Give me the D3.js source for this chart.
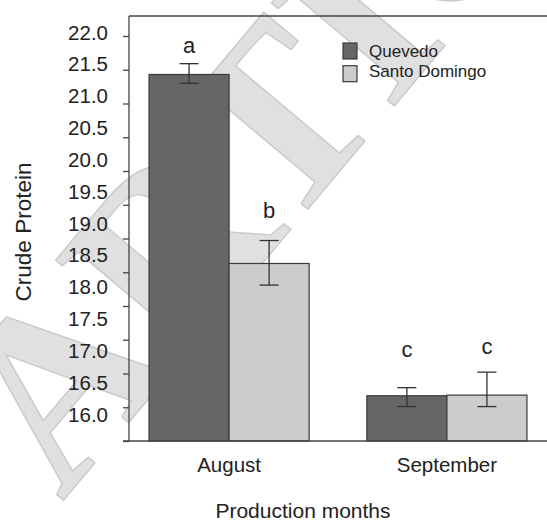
<!DOCTYPE html>
<html>
<head>
<meta charset="utf-8">
<script src="https://cdn.jsdelivr.net/npm/d3@7/dist/d3.min.js"></script>
<style>
  html, body { margin: 0; padding: 0; background: #fff; }
  svg { display: block; }
  text { font-family: "Liberation Sans", Arial, Helvetica, sans-serif; fill: #222; }
</style>
</head>
<body>
<svg id="chart" width="547" height="521"></svg>
<script>
// ---- data ----
const months = ["August", "September"];
const series = ["Quevedo", "Santo Domingo"];
const quevedo = [21.43, 16.67];
const santoDomingo = [18.63, 16.68];
const quevedoErrUp = [0.16, 0.12];
const quevedoErrDown = [0.13, 0.16];
const santoErrUp = [0.34, 0.34];
const santoErrDown = [0.32, 0.17];
const quevedoLetters = ["a", "c"];
const santoLetters = ["b", "c"];
const quevedoLetterAt = [21.75, 17.24];
const santoLetterAt = [19.30, 17.29];
const tickValues = [16.0, 16.5, 17.0, 17.5, 18.0, 18.5, 19.0, 19.5, 20.0, 20.5, 21.0, 21.5, 22.0];
const xTitle = "Production months";
const yTitle = "Crude Protein";
const watermark = "ARTICLE IN PRESS";

// ---- layout ----
const svg = d3.select("#chart");
const pLeft = 129, pRight = 547, pTop = 16, pBottom = 441;
const colors = { "Quevedo": "#666666", "Santo Domingo": "#cccccc" };
const axisColor = "#444";

// watermark (behind everything)
svg.append("text")
  .attr("transform", "translate(62,502) rotate(-50)")
  .style("font-family", "'Liberation Serif', 'Times New Roman', serif")
  .style("font-weight", "bold")
  .style("font-size", "245px")
  .style("fill", "#e0e0e0")
  .style("stroke", "#cbcbcb")
  .style("stroke-width", 1.5)
  .text(watermark);

// scales
const y = d3.scaleLinear().domain([16, 22]).range([pBottom, 36]);
const yLabel = d3.scaleLinear().domain([16, 22]).range([414.5, 32.5]);
const x = d3.scaleBand().domain(months).range([pLeft, pRight]).paddingInner(0.265).paddingOuter(0.092);
const xs = d3.scaleBand().domain(series).range([0, x.bandwidth()]);

const rows = months.map((m, i) => ({
  month: m,
  items: [
    { s: series[0], v: quevedo[i], up: quevedoErrUp[i], down: quevedoErrDown[i], letter: quevedoLetters[i], la: quevedoLetterAt[i] },
    { s: series[1], v: santoDomingo[i], up: santoErrUp[i], down: santoErrDown[i], letter: santoLetters[i], la: santoLetterAt[i] }
  ]
}));

// bars
const g = svg.append("g");
const groups = g.selectAll("g.grp").data(rows).enter().append("g")
  .attr("transform", d => `translate(${x(d.month)},0)`);

groups.selectAll("rect").data(d => d.items).enter().append("rect")
  .attr("x", d => xs(d.s))
  .attr("y", d => y(d.v))
  .attr("width", xs.bandwidth())
  .attr("height", d => pBottom - y(d.v))
  .attr("fill", d => colors[d.s])
  .attr("stroke", "#3a3a3a")
  .attr("stroke-width", 1.2);

// error bars
const capW = 19;
groups.selectAll("g.err").data(d => d.items).enter().append("g").each(function(d) {
  const cx = xs(d.s) + xs.bandwidth() / 2;
  const e = d3.select(this);
  const y1 = y(d.v + d.up), y2 = y(d.v - d.down);
  e.append("line").attr("x1", cx).attr("x2", cx).attr("y1", y1).attr("y2", y2)
    .attr("stroke", "#333").attr("stroke-width", 1.3);
  e.append("line").attr("x1", cx - capW / 2).attr("x2", cx + capW / 2).attr("y1", y1).attr("y2", y1)
    .attr("stroke", "#333").attr("stroke-width", 1.3);
  e.append("line").attr("x1", cx - capW / 2).attr("x2", cx + capW / 2).attr("y1", y2).attr("y2", y2)
    .attr("stroke", "#333").attr("stroke-width", 1.3);
});

// significance letters
groups.selectAll("text.sig").data(d => d.items).enter().append("text")
  .attr("x", d => xs(d.s) + xs.bandwidth() / 2)
  .attr("y", d => y(d.la))
  .attr("text-anchor", "middle")
  .style("font-size", "22px")
  .text(d => d.letter);

// y axis tick marks
const yAxis = svg.append("g").attr("transform", `translate(${pLeft},0)`)
  .call(d3.axisLeft(y).tickValues(tickValues).tickSize(6).tickFormat(""));
yAxis.select(".domain").remove();
yAxis.selectAll(".tick line").attr("stroke", axisColor).attr("stroke-width", 1.3);

// y axis labels (as printed in the original, slightly offset from marks)
const yLab = svg.append("g").attr("transform", `translate(${pLeft},0)`)
  .call(d3.axisLeft(yLabel).tickValues(tickValues).tickSize(0).tickPadding(21).tickFormat(d3.format(".1f")));
yLab.select(".domain").remove();
yLab.selectAll(".tick text").style("font-size", "20.5px").style("font-family", "'Liberation Sans', Arial, sans-serif").attr("fill", "#222");

// frame: left axis, top line, bottom axis
svg.append("line").attr("x1", pLeft).attr("x2", pLeft).attr("y1", pTop).attr("y2", pBottom)
  .attr("stroke", axisColor).attr("stroke-width", 1.3);
svg.append("line").attr("x1", pLeft).attr("x2", pRight).attr("y1", pTop).attr("y2", pTop)
  .attr("stroke", axisColor).attr("stroke-width", 1.3);
svg.append("line").attr("x1", pLeft - 6).attr("x2", pRight).attr("y1", pBottom).attr("y2", pBottom)
  .attr("stroke", axisColor).attr("stroke-width", 1.3);

// x labels
const xAxis = svg.append("g").attr("transform", `translate(0,${pBottom})`)
  .call(d3.axisBottom(x).tickSize(0).tickPadding(16));
xAxis.select(".domain").remove();
xAxis.selectAll(".tick text").style("font-size", "20.5px").style("font-family", "'Liberation Sans', Arial, sans-serif").attr("fill", "#222");

// axis titles
svg.append("text").attr("x", 303).attr("y", 518)
  .attr("text-anchor", "middle").style("font-size", "21px").text(xTitle);
svg.append("text").attr("transform", "translate(31,232) rotate(-90)")
  .attr("text-anchor", "middle").style("font-size", "22.5px").text(yTitle);

// legend
const lg = svg.append("g").attr("transform", "translate(343,43)");
series.forEach((s, i) => {
  lg.append("rect").attr("x", 0).attr("y", i * 22.7).attr("width", 14).attr("height", 16)
    .attr("fill", colors[s]).attr("stroke", "#3a3a3a").attr("stroke-width", 1.2);
  lg.append("text").attr("x", 26).attr("y", 14 + i * 20.2).style("font-size", "17px").text(s);
});
</script>
</body>
</html>
